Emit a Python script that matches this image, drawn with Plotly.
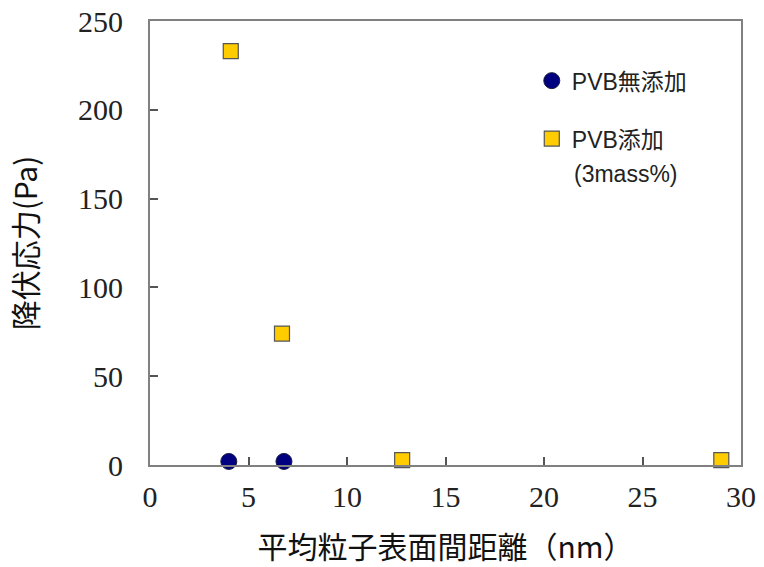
import plotly.graph_objects as go

# data
no_pvb_x = [4.0, 6.8]
no_pvb_y = [2.0, 2.0]
pvb_x = [4.1, 6.7, 12.8, 29.0]
pvb_y = [233, 74, 2.8, 2.8]

name_no = "PVB無添加"
name_pvb = "PVB添加"
name_pvb_note = "(3mass%)"
x_title = "平均粒子表面間距離（nm）"
y_title = "降伏応力(Pa)"

x_ticks = [0, 5, 10, 15, 20, 25, 30]
y_ticks = [0, 50, 100, 150, 200, 250]

fig = go.Figure()
fig.add_trace(go.Scatter(
    x=no_pvb_x, y=no_pvb_y, mode="markers", name=name_no,
    legendgroup="a", cliponaxis=False,
    marker=dict(symbol="circle", size=16, color="#000080",
                line=dict(color="#1a1a40", width=1)),
))
fig.add_trace(go.Scatter(
    x=pvb_x, y=pvb_y, mode="markers", name=name_pvb,
    legendgroup="b", cliponaxis=False,
    marker=dict(symbol="square", size=15, color="#FFCC00",
                line=dict(color="#555555", width=1.2)),
))

axis_common = dict(
    showline=True, linecolor="#808080", linewidth=2, mirror=True,
    ticks="inside", ticklen=8, tickwidth=1.5, tickcolor="#555555",
    showgrid=False, zeroline=False, automargin=False,
    ticklabeloverflow="allow",
    tickfont=dict(family="Liberation Serif", size=30, color="#222222"),
)

fig.update_xaxes(range=[0, 30], tickvals=x_ticks, ticklabelstandoff=4, **axis_common,
                 title=dict(text=x_title, standoff=31,
                            font=dict(family="Noto Sans CJK JP", size=30, color="#111111")))
fig.update_yaxes(range=[0, 250], tickvals=y_ticks, ticklabelstandoff=19, **axis_common,
                 title=dict(text=y_title, standoff=32,
                            font=dict(family="Noto Sans CJK JP", size=30, color="#111111")))

fig.add_annotation(
    text=name_pvb_note, xref="paper", yref="paper",
    x=0.714, y=0.655, xanchor="left", yanchor="middle", showarrow=False,
    font=dict(family="Liberation Sans", size=23, color="#222222"),
)

fig.update_layout(
    width=764, height=567,
    margin=dict(l=150, r=23, t=21, b=102),
    plot_bgcolor="white", paper_bgcolor="white",
    legend=dict(x=0.646, y=0.914, xanchor="left", yanchor="top",
                traceorder="grouped", tracegroupgap=25,
                bgcolor="rgba(0,0,0,0)",
                font=dict(family="Liberation Sans, Noto Sans CJK JP", size=23, color="#222222")),
)

fig.write_html("out.html", config={"displayModeBar": False},
               post_script="document.body.style.margin='0';document.body.style.overflow='hidden';")
